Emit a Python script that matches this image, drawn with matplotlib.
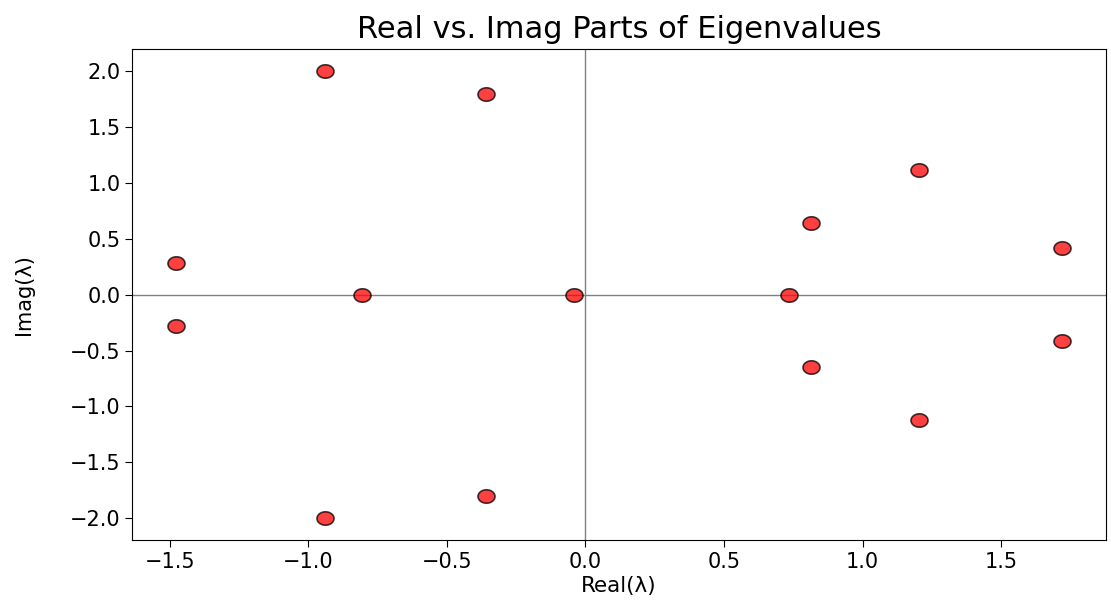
import matplotlib
matplotlib.use("Agg")
import matplotlib.pyplot as plt
import numpy as np
from matplotlib.path import Path

# eigenvalues (conjugate pairs)
real_parts = [-0.94, -0.94, -0.36, -0.36, -1.476, -1.476, -0.805, -0.04,
              0.735, 0.813, 0.813, 1.205, 1.205, 1.719, 1.719]
imag_parts = [2.0, -2.0, 1.80, -1.80, 0.283, -0.283, 0.0, 0.0,
              0.0, 0.645, -0.645, 1.12, -1.12, 0.417, -0.417]

# slightly wide circle, as in the (stretched) reference image
t = np.linspace(0, 2 * np.pi, 60)
ellipse = Path(np.column_stack([1.27 * np.cos(t), np.sin(t)]), closed=True)

fig = plt.figure(figsize=(11.11, 6.07), dpi=100)
ax = fig.add_axes([0.119, 0.110, 0.8765, 0.809])

ax.scatter(real_parts, imag_parts, s=150, marker=ellipse, color="red",
           edgecolor="black", linewidth=1.2, alpha=0.75, zorder=3)
ax.axhline(0, color="gray", linewidth=1.0, zorder=1)
ax.axvline(0, color="gray", linewidth=1.0, zorder=1)

ax.set_title("Real vs. Imag Parts of Eigenvalues", fontsize=22, pad=8)
ax.set_xlabel("Real(λ)", fontsize=15.5, labelpad=3)
ax.set_ylabel("Imag(λ)", fontsize=15)
ax.yaxis.set_label_coords(-0.101, 0.5)
ax.tick_params(labelsize=15, length=5)
ax.set_yticks([-2.0, -1.5, -1.0, -0.5, 0.0, 0.5, 1.0, 1.5, 2.0])

fig.savefig("out.png", dpi=100)
